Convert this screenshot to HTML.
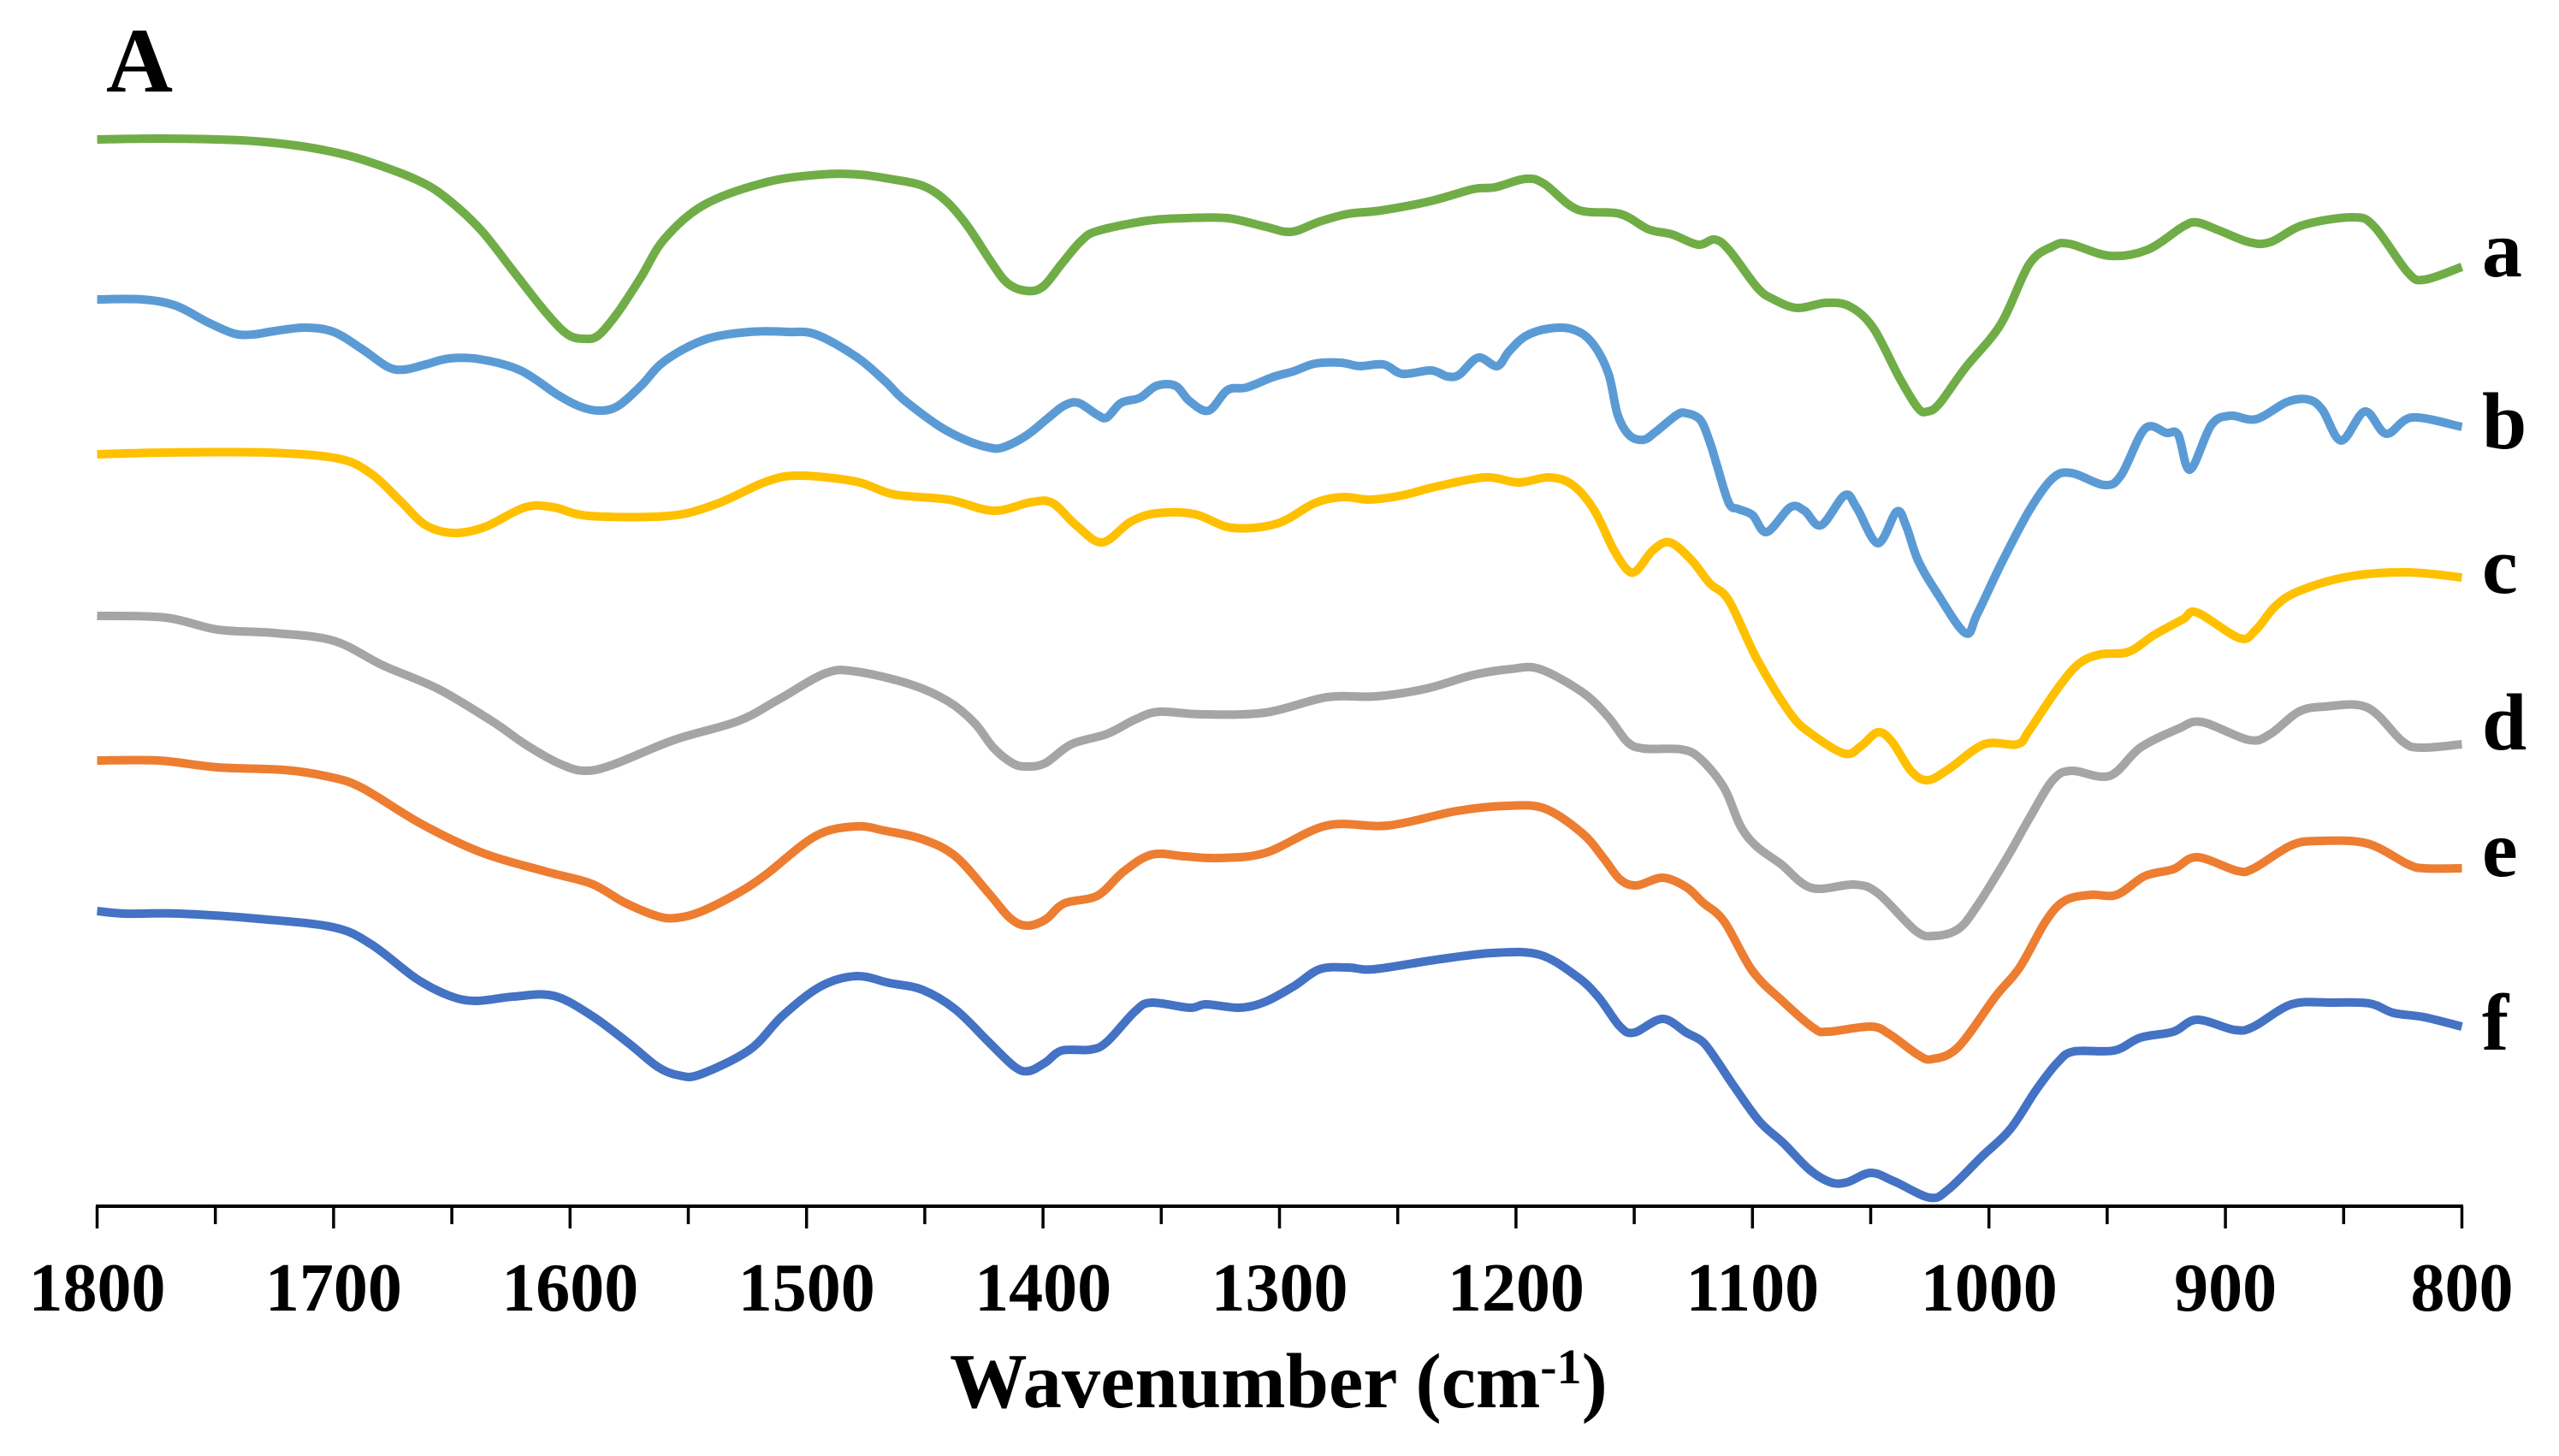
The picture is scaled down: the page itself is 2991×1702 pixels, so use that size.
<!DOCTYPE html>
<html lang="en">
<head>
<meta charset="utf-8">
<title>FTIR spectra, panel A</title>
<style>
html,body{margin:0;padding:0;background:#fff;}
svg{display:block;}
text{font-family:"Liberation Serif",serif;font-weight:bold;fill:#000;}
</style>
</head>
<body>
<svg id="chart" xmlns="http://www.w3.org/2000/svg" width="2991" height="1702" viewBox="0 0 2991 1702">
  <rect x="0" y="0" width="2991" height="1702" fill="#ffffff"/>
  <g id="series-layer"></g>
  <g id="axis-layer"></g>
  <text x="124" y="107" font-size="108">A</text>
  <text x="1110" y="1645" font-size="90.6">Wavenumber (cm<tspan dy="-28" font-size="58">-1</tspan><tspan dy="28">)</tspan></text>
</svg>
<script>
var waveA = [1800,1772,1739,1716,1698,1684,1665,1653,1638,1624,1610,1601,1594,1588,1580,1570,1560,1543,1517,1494,1478,1465,1451,1441,1432,1422,1415,1407,1400,1392,1384,1377,1356,1340,1322,1306,1295,1283,1271,1257,1236,1218,1209,1196,1188,1174,1156,1144,1134,1123,1116,1110,1098,1091,1081,1069,1059,1049,1038,1030,1026,1021,1010,995,983,973,966,949,933,918,912,903,890,881,867,846,837,823,816,800];
var intensityA = [1247,1248,1246,1240,1231,1220,1200,1180,1142,1093,1044,1019,1014,1018,1044,1086,1131,1171,1197,1206,1206,1201,1193,1175,1146,1104,1079,1070,1075,1102,1128,1140,1152,1155,1155,1145,1139,1151,1160,1164,1175,1189,1191,1201,1195,1165,1160,1142,1136,1124,1130,1118,1074,1060,1050,1056,1052,1027,969,933,929,938,980,1031,1101,1122,1125,1111,1118,1145,1150,1141,1127,1127,1147,1156,1145,1092,1083,1098];

var waveB = [1800,1781,1767,1753,1742,1734,1725,1712,1700,1688,1677,1670,1661,1651,1638,1621,1605,1596,1588,1580,1570,1560,1543,1524,1508,1496,1479,1467,1459,1444,1433,1423,1417,1407,1398,1391,1385,1377,1373,1367,1359,1352,1344,1338,1330,1322,1314,1303,1294,1285,1274,1266,1256,1248,1236,1229,1224,1216,1208,1203,1196,1186,1176,1168,1161,1157,1152,1146,1141,1132,1128,1122,1118,1115,1110,1106,1100,1094,1084,1078,1071,1061,1056,1047,1039,1035,1030,1022,1010,1005,995,983,973,965,951,944,934,925,920,915,906,898,887,874,865,859,851,841,832,821,800];
var intensityB = [1060,1060,1053,1033,1020,1019,1023,1027,1022,1002,981,978,984,991,990,977,948,935,930,935,959,988,1013,1022,1022,1019,993,965,943,912,896,887,887,901,921,936,939,925,922,939,945,959,959,941,930,954,957,969,976,985,986,982,984,973,977,970,972,992,982,999,1017,1026,1025,1010,974,925,901,896,905,925,927,919,893,866,822,815,808,788,817,813,796,831,817,775,812,795,755,717,670,692,750,813,851,857,843,855,909,904,902,861,913,924,920,940,943,931,895,929,903,922,911];

var waveC = [1800,1771,1728,1698,1684,1672,1661,1649,1636,1619,1607,1592,1558,1538,1517,1503,1479,1463,1440,1421,1405,1396,1386,1375,1363,1352,1336,1320,1301,1285,1273,1262,1248,1234,1213,1199,1186,1176,1167,1159,1153,1149,1142,1135,1126,1118,1110,1098,1084,1075,1061,1054,1047,1041,1033,1026,1017,1002,988,983,971,962,953,941,930,918,912,894,887,879,869,848,823,800];
var intensityC = [879,881,881,874,856,825,796,787,794,817,817,807,807,821,847,854,847,832,826,813,823,822,796,776,800,810,809,793,798,822,829,826,831,841,852,846,852,843,814,769,744,743,767,776,756,728,708,639,576,552,529,538,554,543,509,498,511,540,540,556,605,634,645,648,668,686,694,664,674,701,719,736,741,735];

var waveD = [1800,1771,1749,1725,1700,1679,1656,1633,1619,1605,1594,1582,1556,1529,1512,1492,1479,1456,1440,1429,1421,1413,1407,1399,1388,1373,1361,1351,1333,1306,1280,1259,1238,1218,1202,1190,1172,1161,1153,1146,1130,1122,1112,1105,1098,1088,1075,1057,1047,1031,1023,1013,1005,992,983,973,965,949,936,920,910,890,881,869,858,840,825,817,800];
var intensityD = [690,688,674,670,661,632,605,567,540,518,509,516,545,567,592,623,625,610,590,565,536,518,514,518,540,552,569,578,575,577,595,596,605,621,628,628,601,572,543,535,534,523,489,444,420,400,372,376,366,322,316,324,351,409,453,498,509,503,536,558,566,545,552,578,584,583,543,536,540];

var waveE = [1800,1774,1749,1721,1702,1688,1663,1637,1610,1591,1577,1563,1555,1545,1529,1517,1496,1479,1467,1451,1437,1423,1414,1407,1399,1391,1377,1366,1354,1340,1326,1306,1280,1254,1225,1204,1188,1172,1163,1156,1149,1138,1128,1121,1112,1100,1087,1074,1068,1050,1042,1030,1024,1013,997,987,976,968,957,946,934,922,912,895,888,872,860,840,823,816,800];
var intensityE = [521,521,513,510,502,489,447,413,391,377,355,339,337,344,366,388,433,444,439,429,409,366,337,328,335,354,363,391,411,409,407,413,445,445,462,468,465,436,407,382,375,384,373,355,333,275,239,208,204,210,201,177,172,186,246,279,333,357,364,364,386,394,408,392,395,422,427,424,400,395,395];

var waveF = [1800,1788,1765,1732,1700,1684,1665,1651,1640,1624,1607,1591,1575,1563,1554,1545,1524,1510,1494,1479,1465,1451,1437,1423,1412,1406,1399,1392,1380,1373,1361,1354,1338,1331,1317,1306,1294,1283,1271,1260,1234,1210,1190,1174,1165,1156,1150,1138,1128,1121,1115,1108,1097,1087,1076,1067,1060,1050,1040,1025,1017,1003,991,980,971,964,947,936,922,912,896,888,872,855,839,829,816,800];
var intensityF = [345,342,342,336,326,306,266,246,240,245,246,223,190,163,153,154,183,223,257,269,261,253,230,192,163,158,168,182,183,192,228,238,232,236,232,239,257,277,279,277,288,296,294,268,244,210,203,219,203,192,170,141,99,74,43,28,28,39,29,10,20,58,90,136,168,181,182,197,204,218,206,210,236,238,237,226,221,210];

var seriesNames = ["a","b","c","d","e","f"];
var seriesColors = ["#70AD47","#5B9BD5","#FFC000","#A5A5A5","#ED7D31","#4472C4"];
var seriesWaves = [waveA,waveB,waveC,waveD,waveE,waveF];
var seriesValues = [intensityA,intensityB,intensityC,intensityD,intensityE,intensityF];
var labelHeights = [1087,886,717,534,386,183];

var majorTicks = [1800,1700,1600,1500,1400,1300,1200,1100,1000,900,800];
var minorTicks = [1750,1650,1550,1450,1350,1250,1150,1050,950,850];

var NS = "http://www.w3.org/2000/svg";
var plotLeft = 113.5, plotRight = 2877.5, plotBase = 1410, waveMax = 1800, waveMin = 800;

function xScale(w){ return plotLeft + (waveMax - w) * (plotRight - plotLeft) / (waveMax - waveMin); }
function yScale(v){ return plotBase - v; }

function smoothPath(ws, vs){
  var pts = [];
  for (var i = 0; i < ws.length; i++) pts.push([xScale(ws[i]), yScale(vs[i])]);
  var d = "M" + pts[0][0].toFixed(1) + " " + pts[0][1].toFixed(1);
  for (var j = 0; j < pts.length - 1; j++){
    var p0 = pts[Math.max(j-1,0)], p1 = pts[j], p2 = pts[j+1], p3 = pts[Math.min(j+2,pts.length-1)];
    var c1x = p1[0] + (p2[0]-p0[0])/6, c1y = p1[1] + (p2[1]-p0[1])/6;
    var c2x = p2[0] - (p3[0]-p1[0])/6, c2y = p2[1] - (p3[1]-p1[1])/6;
    d += "C" + c1x.toFixed(1) + " " + c1y.toFixed(1) + " " + c2x.toFixed(1) + " " + c2y.toFixed(1) + " " + p2[0].toFixed(1) + " " + p2[1].toFixed(1);
  }
  return d;
}

var seriesLayer = document.getElementById("series-layer");
var axisLayer = document.getElementById("axis-layer");

seriesNames.forEach(function(name, k){
  var path = document.createElementNS(NS, "path");
  
  
  path.setAttribute("d", smoothPath(seriesWaves[k], seriesValues[k]));
  path.setAttribute("fill", "none");
  path.setAttribute("stroke", seriesColors[k]);
  path.setAttribute("stroke-width", "10");
  path.setAttribute("stroke-linejoin", "round");
  seriesLayer.appendChild(path);

  var label = document.createElementNS(NS, "text");
  
  
  label.setAttribute("x", 2901);
  label.setAttribute("y", yScale(labelHeights[k]));
  label.setAttribute("font-size", "94");
  label.textContent = name;
  seriesLayer.appendChild(label);
});

var axisLine = document.createElementNS(NS, "line");


axisLine.setAttribute("x1", plotLeft - 1.5);
axisLine.setAttribute("x2", plotRight + 1.5);
axisLine.setAttribute("y1", plotBase);
axisLine.setAttribute("y2", plotBase);
axisLine.setAttribute("stroke", "#000");
axisLine.setAttribute("stroke-width", "4");
axisLayer.appendChild(axisLine);

majorTicks.forEach(function(w){
  var t = document.createElementNS(NS, "line");
  
  
  t.setAttribute("x1", xScale(w));
  t.setAttribute("x2", xScale(w));
  t.setAttribute("y1", plotBase);
  t.setAttribute("y2", plotBase + 26);
  t.setAttribute("stroke", "#000");
  t.setAttribute("stroke-width", "3.5");
  axisLayer.appendChild(t);

  var lab = document.createElementNS(NS, "text");
  
  
  lab.setAttribute("x", xScale(w));
  lab.setAttribute("y", 1532);
  lab.setAttribute("text-anchor", "middle");
  lab.setAttribute("font-size", "80");
  lab.textContent = String(w);
  axisLayer.appendChild(lab);
});

minorTicks.forEach(function(w){
  var t = document.createElementNS(NS, "line");
  
  
  t.setAttribute("x1", xScale(w));
  t.setAttribute("x2", xScale(w));
  t.setAttribute("y1", plotBase);
  t.setAttribute("y2", plotBase + 21);
  t.setAttribute("stroke", "#000");
  t.setAttribute("stroke-width", "3.5");
  axisLayer.appendChild(t);
});
</script>
</body>
</html>
